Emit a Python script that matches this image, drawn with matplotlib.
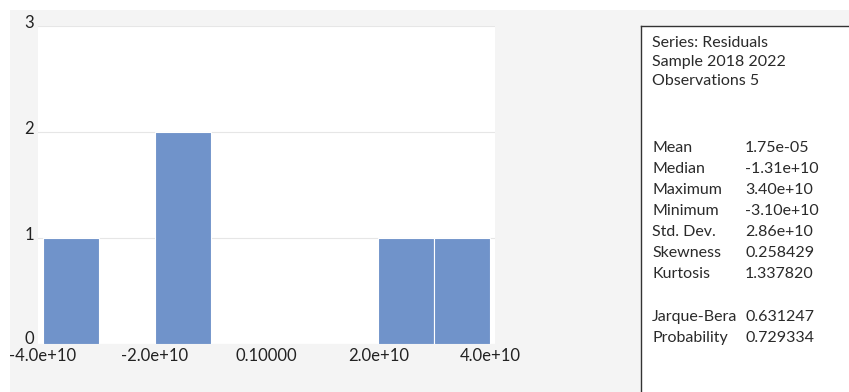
import matplotlib.pyplot as plt
from matplotlib.patches import Rectangle
from matplotlib.transforms import ScaledTranslation

# histogram of residuals (bin edges and counts)
bin_edges = [-4e10, -3e10, -2e10, -1e10, 0, 1e10, 2e10, 3e10, 4e10]
counts = [1, 0, 2, 0, 0, 0, 1, 1]
tick_pos = [-4e10, -2e10, 0, 2e10, 4e10]
tick_labels = ['-4.0e+10', '-2.0e+10', '0.10000', '2.0e+10', '4.0e+10']

header_lines = ['Series: Residuals', 'Sample 2018 2022', 'Observations 5']
stat_names = ['Mean', 'Median', 'Maximum', 'Minimum', 'Std. Dev.', 'Skewness', 'Kurtosis']
stat_values = ['1.75e-05', '-1.31e+10', '3.40e+10', '-3.10e+10', '2.86e+10', '0.258429', '1.337820']
test_names = ['Jarque-Bera', 'Probability']
test_values = ['0.631247', '0.729334']

plt.rcParams['font.family'] = ['Lato', 'DejaVu Sans']

W, H = 849, 392
fig = plt.figure(figsize=(W / 100, H / 100), dpi=100)
fig.patch.set_facecolor('white')

# light gray panel behind everything
fig.patches.append(Rectangle((10 / W, 0), 1, 1 - 10 / H, transform=fig.transFigure,
                             facecolor='#f4f4f4', edgecolor='none', zorder=-5))

# plot area: x 38..495, y 26..344 (pixels from top)
ax = fig.add_axes([38 / W, 1 - 344 / H, (495 - 38) / W, (344 - 26) / H])
ax.set_facecolor('white')
widths = [bin_edges[i + 1] - bin_edges[i] for i in range(len(counts))]
ax.bar(bin_edges[:-1], counts, width=widths, align='edge', color='#7093ca',
       edgecolor='white', linewidth=0.8, zorder=2)
ax.set_xlim(-4.09e10, 4.09e10)
ax.set_ylim(0, 3)
ax.set_yticks([0, 1, 2, 3])
ax.set_xticks(tick_pos)
ax.set_xticklabels(tick_labels)
ax.grid(axis='y', color='#e6e6e6', linewidth=0.8, zorder=0)
ax.set_axisbelow(True)
for s in ax.spines.values():
    s.set_visible(False)
ax.tick_params(length=0, labelsize=12, colors='#222222')
ax.tick_params(axis='x', pad=3)
ax.tick_params(axis='y', pad=3)
# nudge y labels up a little, as in the original (the 0 a bit more)
for i, lbl in enumerate(ax.get_yticklabels()):
    dy = 7 if i == 0 else 4
    lbl.set_transform(lbl.get_transform() + ScaledTranslation(0, dy / 100, fig.dpi_scale_trans))

# statistics box
box = fig.add_axes([641 / W, -0.1, 1, 1 - 26 / H + 0.1])
box.set_xlim(641, 641 + W)
box.set_ylim(H + 0.1 * H, 26)
box.set_facecolor('white')
box.set_xticks([])
box.set_yticks([])
for k, s in box.spines.items():
    s.set_visible(k in ('left', 'top'))
    s.set_color('#333333')
    s.set_linewidth(1.0)

txt = dict(fontsize=11.5, color='#2a2a2a', va='center', ha='left')
for i, t in enumerate(header_lines):
    box.text(652, 43 + i * 19, t, **txt)
for i, (n, v) in enumerate(zip(stat_names, stat_values)):
    box.text(652, 148 + i * 21, n, **txt)
    box.text(745, 148 + i * 21, v, **txt)
for i, (n, v) in enumerate(zip(test_names, test_values)):
    box.text(652, 317 + i * 21, n, **txt)
    box.text(745, 317 + i * 21, v, **txt)

fig.savefig('out.png', dpi=100, facecolor=fig.get_facecolor())
